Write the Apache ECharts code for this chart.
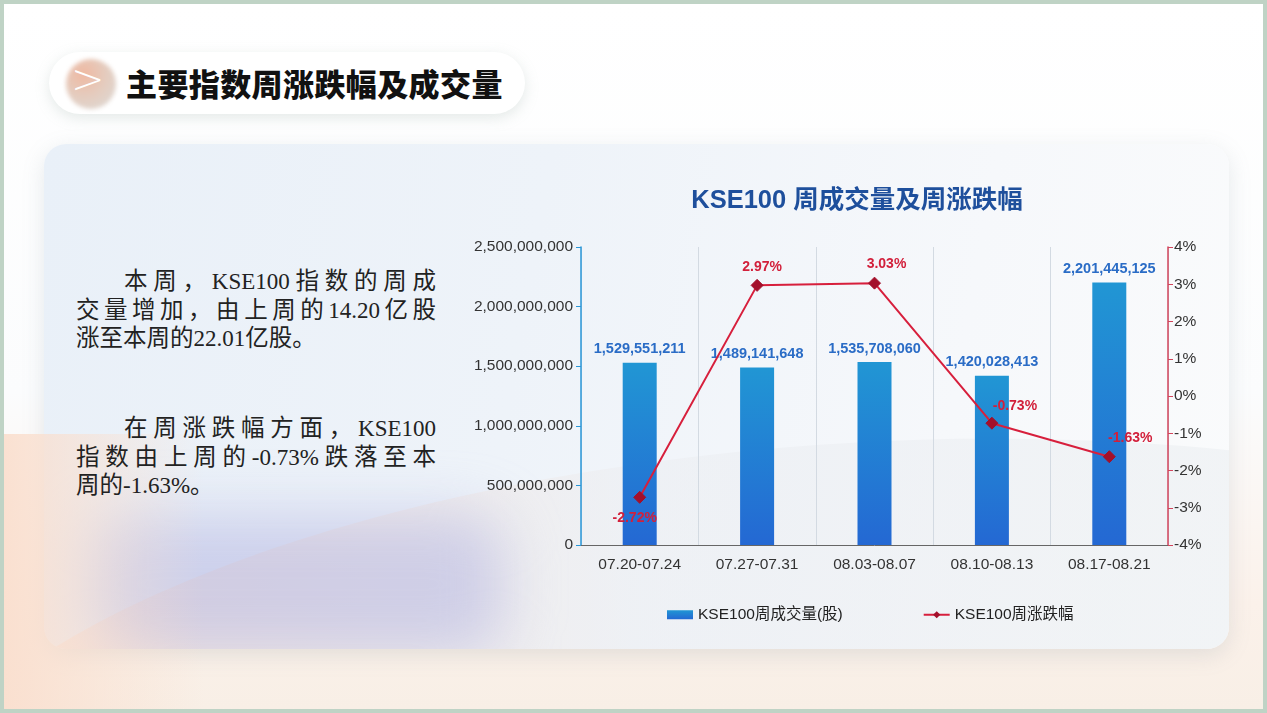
<!DOCTYPE html>
<html>
<head>
<meta charset="utf-8">
<script src="https://cdn.jsdelivr.net/npm/echarts@6/dist/echarts.min.js"></script>
<style>
  html, body { margin: 0; padding: 0; }
  body { width: 1267px; height: 713px; overflow: hidden; position: relative; background: #fff; }
  .slide { position: absolute; left: 0; top: 0; width: 1267px; height: 713px; box-sizing: border-box;
    border: 4px solid #bfd3c5;
    background: linear-gradient(180deg, #ffffff 0%, #fbfcfd 55%, #fbf1ea 85%, #f8efe6 100%); overflow: hidden; }
  .card { position: absolute; left: 40px; top: 140px; width: 1185px; height: 505px; border-radius: 22px;
    background: linear-gradient(100deg, #e9f0f8 0%, #eef3f9 40%, #f6f8fb 75%, #fafbfc 100%);
    box-shadow: 0 6px 22px rgba(120,140,150,0.18); overflow: hidden; }
  .wave { position: absolute; left: -150px; top: 300px; width: 1900px; height: 700px; border-radius: 50%;
    transform: rotate(-4deg);
    background: linear-gradient(90deg, rgba(250,225,210,0.9) 0%, rgba(236,238,242,0.6) 40%, rgba(232,238,240,0.5) 100%); }
  .blob { position: absolute; left: 40px; top: 370px; width: 420px; height: 140px; border-radius: 40px;
    background: rgba(180,182,225,0.55); filter: blur(28px); }
  .peach { position: absolute; left: 0; top: 430px; width: 200px; height: 283px;
    background: linear-gradient(90deg, rgba(250,222,205,0.9), rgba(250,230,215,0)); }
  .pill { position: absolute; left: 45px; top: 48px; width: 476px; height: 62px; border-radius: 31px;
    background: #fff; box-shadow: 0 4px 14px rgba(150,170,165,0.25); }
  .icon { position: absolute; left: 62px; top: 55px; width: 50px; height: 50px; border-radius: 50%;
    background: radial-gradient(circle at 35% 30%, #efb9a2 0%, #e5cbbd 45%, #dcdcd9 100%); filter: blur(2px); }
  .chev { position: absolute; left: 67px; top: 52px; font: 300 40px "DejaVu Sans", sans-serif; color: #fff; }
  .head { position: absolute; left: 122px; top: 56px; font: 900 31px "Noto Sans CJK SC", sans-serif; color: #111; letter-spacing: 0.4px; }
  .para { position: absolute; left: 72px; width: 360px; font: 23.5px "Noto Sans CJK SC", serif;
    color: #222; line-height: 28.5px; }
  .para div { height: 28.5px; text-align: justify; text-align-last: justify; white-space: nowrap; }
  .para div.last { text-align-last: left; }
  .para span { display: inline-block; font-family: "Liberation Serif", serif; font-size: 23px; line-height: 1; vertical-align: baseline; }
  #main { position: absolute; left: 0; top: 0; width: 1267px; height: 713px; }
</style>
</head>
<body>
<div class="slide">
  <div class="card">
    <div class="wave"></div>
    <div class="blob"></div>
  </div>
  <div class="peach"></div>
  <div class="pill"></div>
  <div class="icon"></div>
  <div class="chev">&gt;</div>
  <div class="head">主要指数周涨跌幅及成交量</div>
  <div class="para" style="top:261px">
    <div style="padding-left:48px">本周，<span>KSE100</span>指数的周成</div>
    <div>交量增加，由上周的<span>14.20</span>亿股</div>
    <div class="last">涨至本周的<span>22.01</span>亿股。</div>
  </div>
  <div class="para" style="top:408px">
    <div style="padding-left:48px">在周涨跌幅方面，<span>KSE100</span></div>
    <div>指数由上周的<span>-0.73%</span>跌落至本</div>
    <div class="last">周的<span>-1.63%</span>。</div>
  </div>
</div>
<div id="main"></div>
<script>
// 数据
const weeks = ['07.20-07.24', '07.27-07.31', '08.03-08.07', '08.10-08.13', '08.17-08.21'];
const volume = [1529551211, 1489141648, 1535708060, 1420028413, 2201445125];
const change = [-2.72, 2.97, 3.03, -0.73, -1.63];
// 标签位置
const changeLabelPos = ['bottom', 'top', 'top', 'top', 'top'];
const changeLabelOffset = [[-5, 2], [5, 0], [12, 0], [23, 1], [21, 0]];

let myChart = echarts.init(document.getElementById('main'), null, { renderer: 'canvas' });

let changeData = change.map(function (v, i) {
    return {
        value: v,
        label: { position: changeLabelPos[i], offset: changeLabelOffset[i] }
    };
});

let option = {
    backgroundColor: 'transparent',
    textStyle: { fontFamily: 'Liberation Sans, Arial, Noto Sans CJK SC, sans-serif' },
    title: {
        text: 'KSE100 周成交量及周涨跌幅',
        left: 852,
        top: 183,
        textAlign: 'center',
        textStyle: { color: '#1e4f9c', fontSize: 25.5, fontWeight: 'bold', fontFamily: 'Liberation Sans, Noto Sans CJK SC, sans-serif' }
    },
    legend: {
        top: 602,
        left: 662,
        itemGap: 80,
        itemWidth: 26,
        itemHeight: 9,
        textStyle: { color: '#222', fontSize: 15.5 },
        data: [
            { name: 'KSE100周成交量(股)', icon: 'rect' },
            { name: 'KSE100周涨跌幅' }
        ]
    },
    grid: { left: 581, right: 99, top: 247, bottom: 168 },
    xAxis: {
        type: 'category',
        data: weeks,
        axisLine: { lineStyle: { color: '#666' } },
        axisTick: { show: false },
        axisLabel: { color: '#333', fontSize: 15.5, margin: 12 },
        splitLine: { show: true, interval: 0, lineStyle: { color: '#d3dae2' } }
    },
    yAxis: [
        {
            type: 'value',
            min: 0,
            max: 2500000000,
            interval: 500000000,
            axisLine: { show: true, lineStyle: { color: '#2a97d8', width: 1.5 } },
            axisTick: { show: true, length: 5, lineStyle: { color: '#2a97d8' } },
            axisLabel: {
                color: '#333', fontSize: 15.5, margin: 8,
                formatter: function (v) { return v.toLocaleString('en-US'); }
            },
            splitLine: { show: false }
        },
        {
            type: 'value',
            min: -4,
            max: 4,
            interval: 1,
            axisLine: { show: true, lineStyle: { color: '#d2455c', width: 1.5 } },
            axisTick: { show: true, length: 5, lineStyle: { color: '#d2455c' } },
            axisLabel: { color: '#333', fontSize: 15.5, margin: 6, formatter: '{value}%' },
            splitLine: { show: false }
        }
    ],
    series: [
        {
            name: 'KSE100周成交量(股)',
            type: 'bar',
            data: volume,
            barWidth: 34,
            itemStyle: {
                color: new echarts.graphic.LinearGradient(0, 0, 0, 1, [
                    { offset: 0, color: '#2196d4' },
                    { offset: 1, color: '#2468d3' }
                ])
            },
            label: {
                show: true,
                position: 'top',
                distance: 6,
                color: '#2a6cc6',
                fontSize: 14.5,
                fontWeight: 'bold',
                formatter: function (p) { return p.value.toLocaleString('en-US'); }
            }
        },
        {
            name: 'KSE100周涨跌幅',
            type: 'line',
            yAxisIndex: 1,
            data: changeData,
            symbol: 'diamond',
            symbolSize: 12,
            lineStyle: { color: '#d71f3c', width: 2 },
            itemStyle: { color: '#a3102b', borderColor: '#a3102b' },
            label: {
                show: true,
                color: '#d2203b',
                fontSize: 14,
                fontWeight: 'bold',
                distance: 5,
                formatter: function (p) { return p.value.toFixed(2) + '%'; }
            },
            z: 5
        }
    ]
};

myChart.setOption(option);
</script>
</body>
</html>
